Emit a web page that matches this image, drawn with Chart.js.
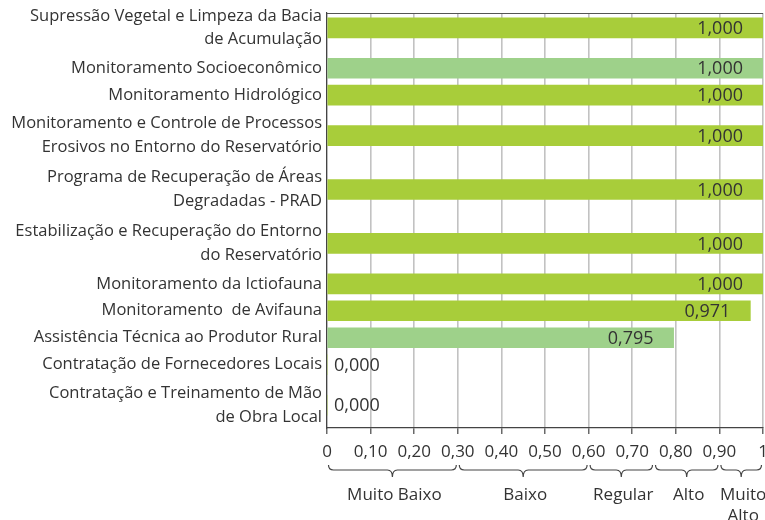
<!DOCTYPE html>
<html>
<head>
<meta charset="utf-8">
<script src="https://cdn.jsdelivr.net/npm/chart.js@4/dist/chart.umd.min.js"></script>
<style>
html,body{margin:0;padding:0;background:#fff;}
#wrap{width:765px;height:520px;}
</style>
</head>
<body>
<div id="wrap"><canvas id="c" width="765" height="520"></canvas></div>
<script>
// ---- data ----
const categories = [
  ['Supressão Vegetal e Limpeza da Bacia', 'de Acumulação'],
  'Monitoramento Socioeconômico',
  'Monitoramento Hidrológico',
  ['Monitoramento e Controle de Processos', 'Erosivos no Entorno do Reservatório'],
  ['Programa de Recuperação de Áreas', 'Degradadas - PRAD'],
  ['Estabilização e Recuperação do Entorno', 'do Reservatório'],
  'Monitoramento da Ictiofauna',
  'Monitoramento  de Avifauna',
  'Assistência Técnica ao Produtor Rural',
  'Contratação de Fornecedores Locais',
  ['Contratação e Treinamento de Mão', 'de Obra Local']
];
const values = [1.000, 1.000, 1.000, 1.000, 1.000, 1.000, 1.000, 0.971, 0.795, 0.000, 0.000];
const valueLabels = ['1,000', '1,000', '1,000', '1,000', '1,000', '1,000', '1,000', '0,971', '0,795', '0,000', '0,000'];
const tickValues = [0, 0.1, 0.2, 0.3, 0.4, 0.5, 0.6, 0.7, 0.8, 0.9, 1];
const tickLabels = ['0', '0,10', '0,20', '0,30', '0,40', '0,50', '0,60', '0,70', '0,80', '0,90', '1'];
const bandLabels = [['Muito Baixo'], ['Baixo'], ['Regular'], ['Alto'], ['Muito', 'Alto']];
const bandFrom = [0, 0.3, 0.6, 0.75, 0.9];
const bandTo = [0.3, 0.6, 0.75, 0.9, 1];

// each row takes as much vertical room as its label has lines
const lineCounts = categories.map(c => Array.isArray(c) ? c.length : 1);
const rowCenters = [];
lineCounts.reduce((acc, n) => { rowCenters.push(acc + n / 2); return acc + n; }, 0);
const totalLines = lineCounts.reduce((a, b) => a + b, 0);

// ---- styles ----
const GREEN = '#a8cd3a';
const LIGHT = '#9ed18a';
const lightRows = ['Monitoramento Socioeconômico', 'Assistência Técnica ao Produtor Rural'];
const barColors = categories.map(c => lightRows.includes(c) ? LIGHT : GREEN);
const FONT = 'Open Sans';
const TEXT = '#333333';

const extras = {
  id: 'extras',
  afterDatasetsDraw(chart) {
    const ctx = chart.ctx;
    const x = chart.scales.x;
    const ca = chart.chartArea;
    ctx.save();
    // top frame line
    ctx.strokeStyle = '#555';
    ctx.lineWidth = 1;
    ctx.beginPath();
    ctx.moveTo(ca.left, ca.top + 0.5);
    ctx.lineTo(ca.right, ca.top + 0.5);
    ctx.stroke();
    // value labels
    ctx.font = '18px "' + FONT + '"';
    ctx.fillStyle = TEXT;
    ctx.textBaseline = 'middle';
    const meta = chart.getDatasetMeta(0);
    meta.data.forEach((bar, i) => {
      const v = values[i];
      if (v === 0) {
        ctx.textAlign = 'left';
        ctx.fillText(valueLabels[i], x.getPixelForValue(0) + 7, bar.y + 1);
      } else {
        ctx.textAlign = 'right';
        ctx.fillText(valueLabels[i], bar.x - 20, bar.y + 1);
      }
    });
    // braces + band labels
    ctx.font = '17px "' + FONT + '"';
    const yTop = ca.bottom + 37;
    const r = 5;
    ctx.strokeStyle = '#444';
    ctx.lineWidth = 1.2;
    bandFrom.forEach((f, i) => {
      const x0 = x.getPixelForValue(f) + 1.5;
      const x1 = x.getPixelForValue(bandTo[i]) - 1.5;
      const mid = (x0 + x1) / 2;
      const yb = yTop + r;
      const tip = yTop + 2 * r + 2;
      ctx.beginPath();
      ctx.moveTo(x0, yTop);
      ctx.quadraticCurveTo(x0, yb, x0 + r, yb);
      ctx.lineTo(mid - r, yb);
      ctx.quadraticCurveTo(mid, yb, mid, tip);
      ctx.quadraticCurveTo(mid, yb, mid + r, yb);
      ctx.lineTo(x1 - r, yb);
      ctx.quadraticCurveTo(x1, yb, x1, yTop);
      ctx.stroke();
      ctx.textAlign = 'center';
      bandLabels[i].forEach((line, k) => {
        ctx.fillText(line, mid + 2, ca.bottom + 67 + k * 21);
      });
    });
    ctx.restore();
  }
};

new Chart(document.getElementById('c'), {
  type: 'bar',
  data: {
    datasets: [{
      data: values.map((v, i) => ({ x: v, y: rowCenters[i] })),
      backgroundColor: barColors,
      borderWidth: 0,
      barThickness: 20
    }]
  },
  options: {
    indexAxis: 'y',
    responsive: false,
    animation: false,
    parsing: { xAxisKey: 'x', yAxisKey: 'y' },
    layout: { padding: { top: 13, right: 2, left: 0, bottom: 0 } },
    plugins: { legend: { display: false }, tooltip: { enabled: false } },
    scales: {
      x: {
        type: 'linear',
        min: 0,
        max: 1,
        afterBuildTicks: s => { s.ticks = tickValues.map(v => ({ value: v })); },
        afterFit: s => { s.height = 92; s.paddingLeft = 0; s.paddingRight = 0; },
        ticks: {
          autoSkip: false,
          maxRotation: 0,
          padding: 8,
          color: TEXT,
          font: { family: FONT, size: 17 },
          callback: (v) => tickLabels[tickValues.findIndex(t => Math.abs(t - v) < 1e-6)]
        },
        grid: { color: '#c2c2c2', lineWidth: 1.6, tickColor: '#444', tickLength: 6, tickWidth: 1.2 },
        border: { color: '#444', width: 1.2 }
      },
      y: {
        type: 'linear',
        reverse: true,
        offset: false,
        min: 0.45,
        max: totalLines - 0.15,
        afterBuildTicks: s => { s.ticks = rowCenters.map(v => ({ value: v })); },
        afterFit: s => { s.width = 327; s.paddingTop = 0; s.paddingBottom = 0; },
        ticks: {
          autoSkip: false,
          padding: 5,
          color: TEXT,
          font: { family: FONT, size: 16.5, lineHeight: 1.45 },
          callback: (v, i) => categories[i]
        },
        grid: { display: false, drawTicks: false, tickLength: 0, offset: false },
        border: { display: true, color: '#444', width: 1.2 }
      }
    }
  },
  plugins: [extras]
});
</script>
</body>
</html>
